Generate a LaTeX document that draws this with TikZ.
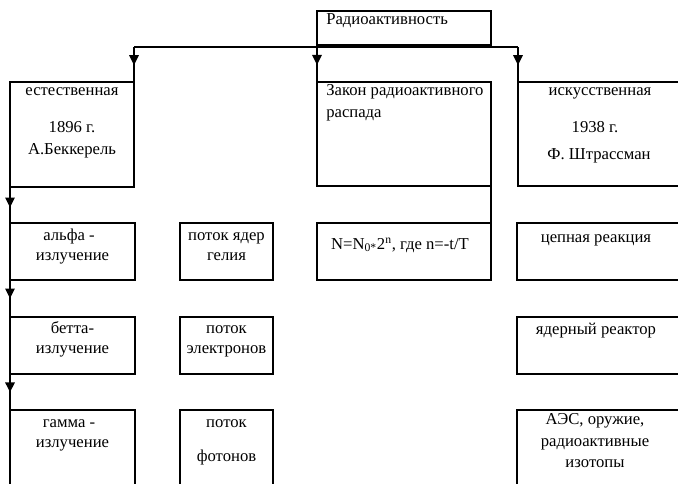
\documentclass[tikz,border=0pt]{standalone}
\usepackage{fontspec}
\setmainfont{Liberation Serif}
\usetikzlibrary{arrows.meta,fit,decorations.markings}
\begin{document}
\begin{tikzpicture}[x=0.75pt,y=-0.75pt,
  box/.style={draw, line width=1.4pt, inner sep=0pt, outer sep=0pt},
  conn/.style={draw, line width=1.4pt},
  midarrow/.style={postaction={decorate}, decoration={markings, mark=at position #1 with {\arrow{Triangle[length=7.5pt,width=7pt]}}}},
  txt/.style={anchor=base, inner sep=0pt, font=\fontsize{12.5}{15}\selectfont},
  txtl/.style={anchor=base west, inner sep=0pt, font=\fontsize{12.5}{15}\selectfont}]
\useasboundingbox (0,0) rectangle (678,483);
\clip (0,0) rectangle (678,483);
% boxes
\node[box, fit={(317,11) (491,45)}] (R) {};
\node[box, fit={(10,82) (134,187)}] (E) {};
\node[box, fit={(317,82) (491,186)}] (Z) {};
\node[box, fit={(518,82) (700,186)}] (I) {};
\node[box, fit={(10,223) (135,280)}] (A) {};
\node[box, fit={(180,223) (273,280)}] (He) {};
\node[box, fit={(10,317) (135,374)}] (B) {};
\node[box, fit={(180,317) (273,374)}] (El) {};
\node[box, fit={(10,410) (135,520)}] (G) {};
\node[box, fit={(180,410) (273,520)}] (Ph) {};
\node[box, fit={(317,223) (491,280)}] (F) {};
\node[box, fit={(517,223) (700,280)}] (C) {};
\node[box, fit={(517,317) (700,374)}] (Rr) {};
\node[box, fit={(517,410) (700,520)}] (S) {};
% connectors
\coordinate (bus) at (400,47);
\draw[conn] (E.north east |- bus) -- (I.north west |- bus);
\draw[conn, midarrow=0.52] (E.north east |- bus) -- (E.north east);
\draw[conn, midarrow=0.54] (R.south west) -- (Z.north west);
\draw[conn, midarrow=0.52] (I.north west |- bus) -- (I.north west);
\draw[conn, midarrow=0.57] (E.south west) -- (A.north west);
\draw[conn, midarrow=0.5] (A.south west) -- (B.north west);
\draw[conn, midarrow=0.51] (B.south west) -- (G.north west);
\draw[conn] (Z.south east) -- (F.north east);
% texts
\node[txtl] (t1) at (326,24) {Радиоактивность};
\node[txt] (t2) at (72,95) {естественная};
\node[txt] (t3) at (72,132) {1896 г.};
\node[txt] (t4) at (72,154) {А.Беккерель};
\node[txtl] (t5) at (326,95) {Закон радиоактивного};
\node[txtl] (t6) at (326,117) {распада};
\node[txt] (t7) at (600,95) {искусственная};
\node[txt] (t8) at (595,132) {1938 г.};
\node[txt] (t9) at (599,159) {Ф. Штрассман};
\node[txt] (t10) at (69,240) {альфа -};
\node[txt] (t11) at (72.5,260) {излучение};
\node[txt] (t12) at (226.5,240) {поток ядер};
\node[txt] (t13) at (226.5,260) {гелия};
\node[txt] (t14) at (72.5,333) {бетта-};
\node[txt] (t15) at (72.5,353) {излучение};
\node[txt] (t16) at (226.5,333) {поток};
\node[txt] (t17) at (226.5,353) {электронов};
\node[txt] (t18) at (69,427) {гамма -};
\node[txt] (t19) at (72.5,447) {излучение};
\node[txt] (t20) at (226.5,427) {поток};
\node[txt] (t21) at (226.5,461) {фотонов};
\node[txt] (t22) at (400,249) {N=N\textsubscript{0*}2\textsuperscript{n}, где n=-t/T};
\node[txt] (t23) at (596,242) {цепная реакция};
\node[txt] (t24) at (596,334) {ядерный реактор};
\node[txt] (t25) at (595,424) {АЭС, оружие,};
\node[txt] (t26) at (595,446) {радиоактивные};
\node[txt] (t27) at (595,467) {изотопы};
\end{tikzpicture}
\end{document}
